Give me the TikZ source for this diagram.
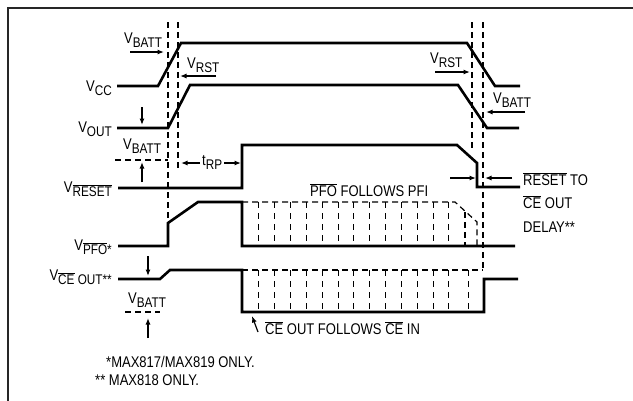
\documentclass[tikz,border=0pt]{standalone}
\usepackage{fontspec}
\setmainfont{Liberation Sans}[FakeStretch=0.84]
\usepackage{tikz}
\usetikzlibrary{arrows.meta, positioning}
\newcommand{\lowtxt}[1]{\raisebox{-4pt}{\fontsize{14}{14}\selectfont #1}}
\newcommand{\barred}[1]{$\overline{\mbox{#1}}$}

\begin{document}
\begin{tikzpicture}[x=1pt, y=-1pt, font=\fontsize{15.5}{18}\selectfont]
	% Setup the styles for the waveforms and labels
	\tikzset{signal/.style={line width=2.6pt, line join=miter},
			 guide/.style={line width=1.2pt, dash pattern=on 6pt off 4pt},
			 hatch/.style={line width=1pt, dash pattern=on 6pt off 5pt},
			 pointer/.style={line width=1.2pt, -{Latex[length=6.5pt,width=5pt]}},
			 label/.style={anchor=base west, inner sep=0pt},
			 name label/.style={anchor=base east, inner sep=0pt}}
	\clip (0,0) rectangle (633,400);
	% Frame
	\draw[line width=1.8pt, draw=black!85] (8,8) rectangle (660,420);
	% Guide lines
	\draw[guide] (168,22) -- (168,223);
	\draw[guide] (178,22) -- (178,170);
	\draw[guide] (472,22) -- (472,150);
	\draw[guide] (483,22) -- (483,270);
	\draw[guide] (115,160) -- (168,160);
	\draw[guide] (125,312) -- (160,312);
	% Hatched regions
	\draw[guide] (242,202) -- (455,202) -- (477,222) -- (477,246);
	\draw[guide] (465,212) -- (465,246);
	\foreach \x in {258,274,290,306,322,338,353,369,385,401,417,433,448}
		\draw[hatch] (\x,202) -- (\x,246);
	\draw[guide] (242,270) -- (483,270);
	\foreach \x in {258,274,290,306,322,338,353,369,385,401,417,433,448,468}
		\draw[hatch] (\x,270) -- (\x,312);
	% Draw the waveforms
	\draw[signal] (117,86) -- (158,86) -- (181,43) -- (467,43) -- (495,86) -- (520,86);
	\draw[signal] (117,128) -- (168,128) -- (190,85) -- (458,85) -- (487,128) -- (519,128);
	\draw[signal] (118,188) -- (242,188) -- (242,145) -- (457,145) -- (477,163) -- (477,187) -- (520,187);
	\draw[signal] (118,246) -- (168,246) -- (168,223) -- (198,202) -- (242,202) -- (242,246) -- (515,246);
	\draw[signal] (118,279) -- (160,279) -- (170,270) -- (242,270) -- (242,312) -- (484,312) -- (484,279) -- (518,279);
	% Signal names
	\node[name label] (vcc)    at (112,91)  {V\lowtxt{CC}};
	\node[name label] (vout)   at (112,132) {V\lowtxt{OUT}};
	\node[name label] (vreset) at (112,192) {V\lowtxt{\barred{RESET}}};
	\node[name label] (vpfo)   at (112,250) {V\lowtxt{\barred{PFO}*}};
	\node[name label] (vceout) at (112,280) {V\lowtxt{\barred{CE} OUT**}};
	% Level and timing labels
	\node[label] (vbatta) at (124,43)  {V\lowtxt{BATT}};
	\node[label] (vrsta)  at (187,68)  {V\lowtxt{RST}};
	\node[label] (vbattb) at (123,149) {V\lowtxt{BATT}};
	\node[label] (trp)    at (202,165) {t\lowtxt{RP}};
	\node[label] (vbattc) at (128,303) {V\lowtxt{BATT}};
	\node[label] (vrstb)  at (430,63)  {V\lowtxt{RST}};
	\node[label] (vbattd) at (493,103) {V\lowtxt{BATT}};
	\node[label] (pfonote) at (310,196) {\barred{PFO} FOLLOWS PFI};
	\node[label] (delaya) at (523,185) {\barred{RESET} TO};
	\node[label] (delayb) at (523,208) {\barred{CE} OUT};
	\node[label] (delayc) at (523,232) {DELAY**};
	\node[label] (cenote) at (265,334) {\barred{CE} OUT FOLLOWS \barred{CE} IN};
	% Footnotes
	\node[label] (notea) at (106,367) {*MAX817/MAX819 ONLY.};
	\node[label] (noteb) at (95,385)  {** MAX818 ONLY.};
	% Arrows
	\draw[pointer] (130,52) -- (164,52);
	\draw[pointer] (216,76) -- (180,76);
	\draw[pointer] (142,107) -- (142,125);
	\draw[pointer] (142,182) -- (142,162);
	\draw[pointer] (200,163) -- (181,163);
	\draw[pointer] (224,163) -- (241,163);
	\draw[pointer] (435,72) -- (470,72);
	\draw[pointer] (525,112) -- (486,112);
	\draw[pointer] (450,178) -- (476,178);
	\draw[pointer] (512,178) -- (485,178);
	\draw[pointer] (148,256) -- (148,276);
	\draw[pointer] (148,338) -- (148,318);
	\draw[pointer] (258,332) -- (252,316);
\end{tikzpicture}
\end{document}
